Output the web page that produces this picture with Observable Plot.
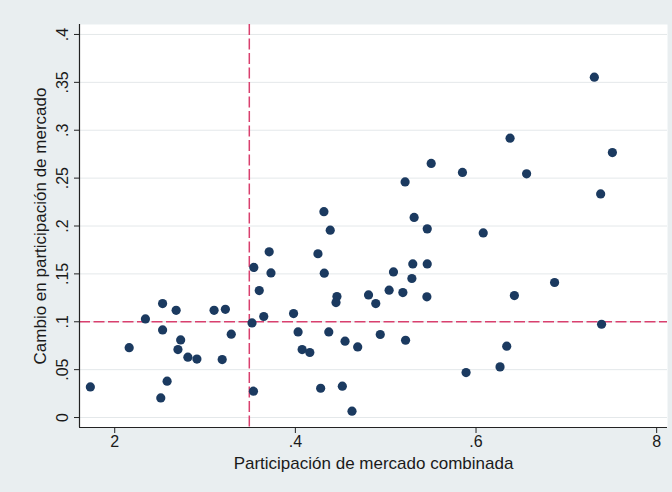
<!DOCTYPE html>
<html>
<head>
<meta charset="utf-8">
<script src="https://cdn.jsdelivr.net/npm/d3@7"></script>
<script src="https://cdn.jsdelivr.net/npm/@observablehq/plot@0.6"></script>
<style>
  html, body { margin: 0; padding: 0; background: #e9eef0; }
  #chart { width: 672px; height: 492px; }
  svg { display: block; }
</style>
</head>
<body>
<div id="chart"></div>
<script>
// Combined market share (x) and change in market share (y)
const shareCombined = [
  0.173, 0.216, 0.234, 0.253, 0.253, 0.268, 0.273, 0.270, 0.281, 0.291,
  0.258, 0.251, 0.310, 0.3225, 0.329, 0.319, 0.352, 0.3536, 0.354, 0.371,
  0.373, 0.360, 0.365, 0.398, 0.403, 0.4075, 0.416, 0.4316, 0.4386, 0.425,
  0.432, 0.446, 0.445, 0.437, 0.455, 0.469, 0.428, 0.452, 0.4627, 0.481,
  0.489, 0.494, 0.5038, 0.5086, 0.519, 0.522, 0.5315, 0.546, 0.530, 0.529,
  0.546, 0.5456, 0.5504, 0.5215, 0.585, 0.656, 0.6377, 0.608, 0.687, 0.6425,
  0.634, 0.6266, 0.589, 0.731, 0.751, 0.738, 0.739
];
const shareChange = [
  0.032, 0.073, 0.103, 0.119, 0.0915, 0.112, 0.081, 0.071, 0.063, 0.061,
  0.038, 0.0205, 0.112, 0.113, 0.087, 0.0605, 0.0988, 0.0275, 0.1567, 0.173,
  0.151, 0.1326, 0.1055, 0.1086, 0.0894, 0.071, 0.0679, 0.215, 0.1956, 0.171,
  0.1507, 0.1264, 0.120, 0.0894, 0.0797, 0.0737, 0.0306, 0.0327, 0.0066, 0.128,
  0.119, 0.0867, 0.133, 0.152, 0.1305, 0.0807, 0.209, 0.197, 0.1604, 0.1452,
  0.1604, 0.126, 0.2653, 0.246, 0.2559, 0.2545, 0.2917, 0.1928, 0.141, 0.1274,
  0.0745, 0.0529, 0.047, 0.3554, 0.2767, 0.2335, 0.0974
];
const xTickValues = [0.2, 0.4, 0.6, 0.8];
const xTickLabels = ["2", ".4", ".6", "8"];
const yTickValues = [0, 0.05, 0.1, 0.15, 0.2, 0.25, 0.3, 0.35, 0.4];
const yTickLabels = ["0", ".05", ".1", ".15", ".2", ".25", ".3", ".35", ".4"];
const refX = [0.349];
const refY = [0.1];
const xTitle = "Participación de mercado combinada";
const yTitle = "Cambio en participación de mercado";

const points = shareCombined.map((x, i) => ({x, y: shareChange[i]}));
const yTicks = yTickValues.map((v, i) => ({v, label: yTickLabels[i]}));

const font = "'Liberation Sans', Arial, sans-serif";

const chart = Plot.plot({
  width: 672,
  height: 492,
  marginLeft: 79,
  marginRight: 5,
  marginTop: 24,
  marginBottom: 65,
  style: { background: "#e9eef0", fontFamily: font, color: "#1a1a1a" },
  x: { domain: [0.161, 0.812] },
  y: { domain: [-0.0104, 0.4104] },
  marks: [
    Plot.frame({ fill: "white", stroke: "none" }),
    Plot.gridY(yTickValues, { stroke: "#e4e8ea", strokeOpacity: 1, strokeWidth: 1 }),
    Plot.ruleX(refX, { stroke: "#d9406e", strokeWidth: 1.5, strokeDasharray: "11,3.5" }),
    Plot.ruleY(refY, { stroke: "#d9406e", strokeWidth: 1.5, strokeDasharray: "11,3.5" }),
    Plot.dot(points, { x: "x", y: "y", r: 4.6, fill: "#1b3a60", stroke: "none" }),
    Plot.axisX(xTickValues, {
      tickSize: 6, tickPadding: 2, fontSize: 16,
      tickFormat: (d, i) => xTickLabels[i], label: null, stroke: "#222"
    }),
    Plot.axisY(yTickValues, { tickSize: 5, tickFormat: () => "", label: null, stroke: "#222" }),
    Plot.text(yTicks, {
      y: "v", text: "label", frameAnchor: "left", dx: -17, rotate: -90,
      textAnchor: "middle", lineAnchor: "middle", fontSize: 16, fill: "#1a1a1a"
    }),
    Plot.ruleX([0.161], { stroke: "#222", strokeWidth: 1.2 }),
    Plot.ruleY([-0.0104], { stroke: "#222", strokeWidth: 1.2 }),
    Plot.text([xTitle], {
      frameAnchor: "bottom", dy: 36, text: d => d, fontSize: 17,
      textAnchor: "middle", lineAnchor: "middle", fill: "#1a1a1a"
    }),
    Plot.text([yTitle], {
      frameAnchor: "left", dx: -39, rotate: -90, text: d => d, fontSize: 17,
      textAnchor: "middle", lineAnchor: "middle", fill: "#1a1a1a"
    })
  ]
});
document.getElementById("chart").appendChild(chart);
</script>
</body>
</html>
